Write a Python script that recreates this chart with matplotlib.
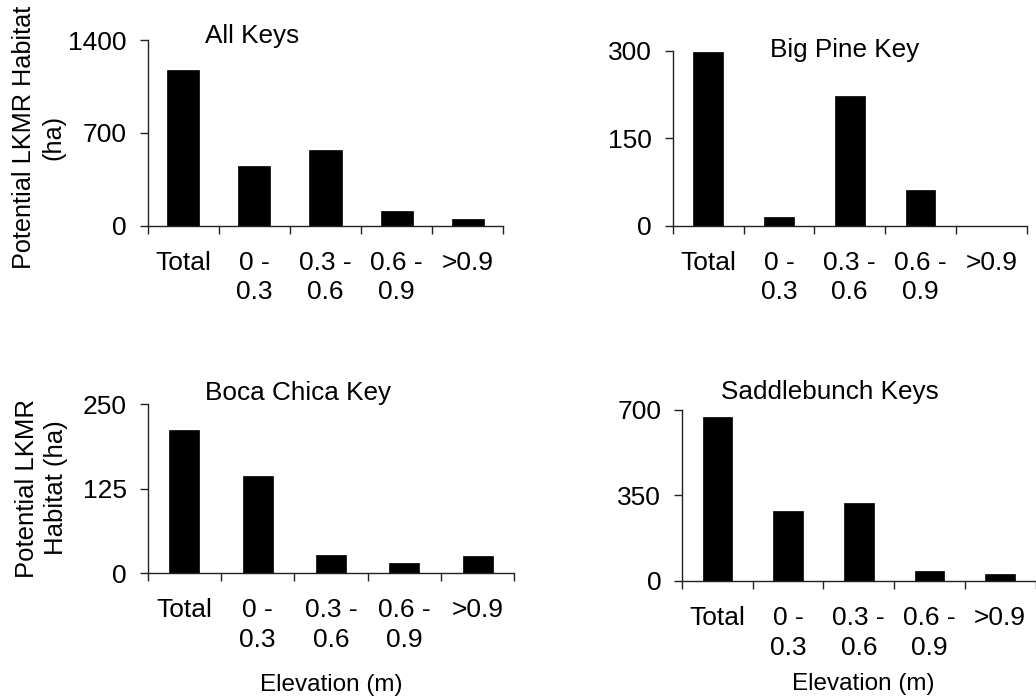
import matplotlib
matplotlib.use("Agg")
import matplotlib.pyplot as plt

plt.rcParams['font.family'] = ['Liberation Sans', 'DejaVu Sans']

# Potential habitat (ha) by elevation class
categories = ["Total", "0 -\n0.3", "0.3 -\n0.6", "0.6 -\n0.9", ">0.9"]
all_keys = [1173, 451, 572, 113, 53]
big_pine = [297, 15, 222, 61, 0]
boca_chica = [211, 144, 27, 15, 25]
saddlebunch = [671, 287, 320, 41, 27]

panel_titles = ["All Keys", "Big Pine Key", "Boca Chica Key", "Saddlebunch Keys"]
panel_data = [all_keys, big_pine, boca_chica, saddlebunch]
panel_yticks = [[0, 700, 1400], [0, 150, 300], [0, 125, 250], [0, 350, 700]]

W, H = 1036, 700
fig = plt.figure(figsize=(W / 100, H / 100), dpi=100)


def px_box(left, right, top, bottom):
    return [left / W, 1 - bottom / H, (right - left) / W, (bottom - top) / H]


boxes = [px_box(147.7, 503.3, 40.3, 225.7),
         px_box(672.7, 1026.7, 50.7, 225.7),
         px_box(147.7, 514.3, 404.0, 573.3),
         px_box(682.0, 1035.5, 409.7, 581.0)]
title_pos = [(252, 43.3), (844.5, 57.3), (298, 400), (830, 399.3)]
bar_widths = [0.45, 0.42, 0.41, 0.42]

line_col = '#222222'
fs = 19

for box, title, vals, yt, tpos, bw in zip(boxes, panel_titles, panel_data,
                                         panel_yticks, title_pos, bar_widths):
    ax = fig.add_axes(box)
    x = list(range(len(categories)))
    ax.bar(x, vals, width=bw, color='k', edgecolor='k', linewidth=0.5)
    ax.set_xlim(-0.5, len(categories) - 0.5)
    ax.set_ylim(0, yt[-1])

    ax.spines['top'].set_visible(False)
    ax.spines['right'].set_visible(False)
    for s in ('left', 'bottom'):
        ax.spines[s].set_color(line_col)
        ax.spines[s].set_linewidth(1.0)
        ax.spines[s].set_clip_on(False)

    ax.set_yticks(yt)
    ax.set_yticklabels([str(v) for v in yt], fontsize=fs)
    ax.tick_params(axis='y', direction='out', length=6, width=1.0,
                   color=line_col, pad=9)

    # labels sit at category centres, tick marks at category boundaries
    ax.set_xticks(x)
    ax.set_xticklabels(categories, fontsize=fs, linespacing=1.3)
    ax.set_xticks([i - 0.5 for i in range(len(categories) + 1)], minor=True)
    ax.tick_params(axis='x', which='major', length=0, pad=18)
    ax.tick_params(axis='x', which='minor', direction='out', length=6,
                   width=1.0, color=line_col)

    fig.text(tpos[0] / W, 1 - tpos[1] / H, title, fontsize=18.8,
             ha='center', va='baseline')

fig.text(39 / W, 1 - 137 / H, "Potential LKMR Habitat\n(ha)", rotation=90,
         fontsize=18.2, ha='center', va='center', multialignment='center',
         linespacing=1.3)
fig.text(41.7 / W, 1 - 488 / H, "Potential LKMR\nHabitat (ha)", rotation=90,
         fontsize=18.5, ha='center', va='center', multialignment='center',
         linespacing=1.25)

fig.text(331.7 / W, 1 - 690.7 / H, "Elevation (m)", fontsize=17.5,
         ha='center', va='baseline')
fig.text(863.3 / W, 1 - 690 / H, "Elevation (m)", fontsize=17.5,
         ha='center', va='baseline')

fig.savefig("out.png", dpi=100)
